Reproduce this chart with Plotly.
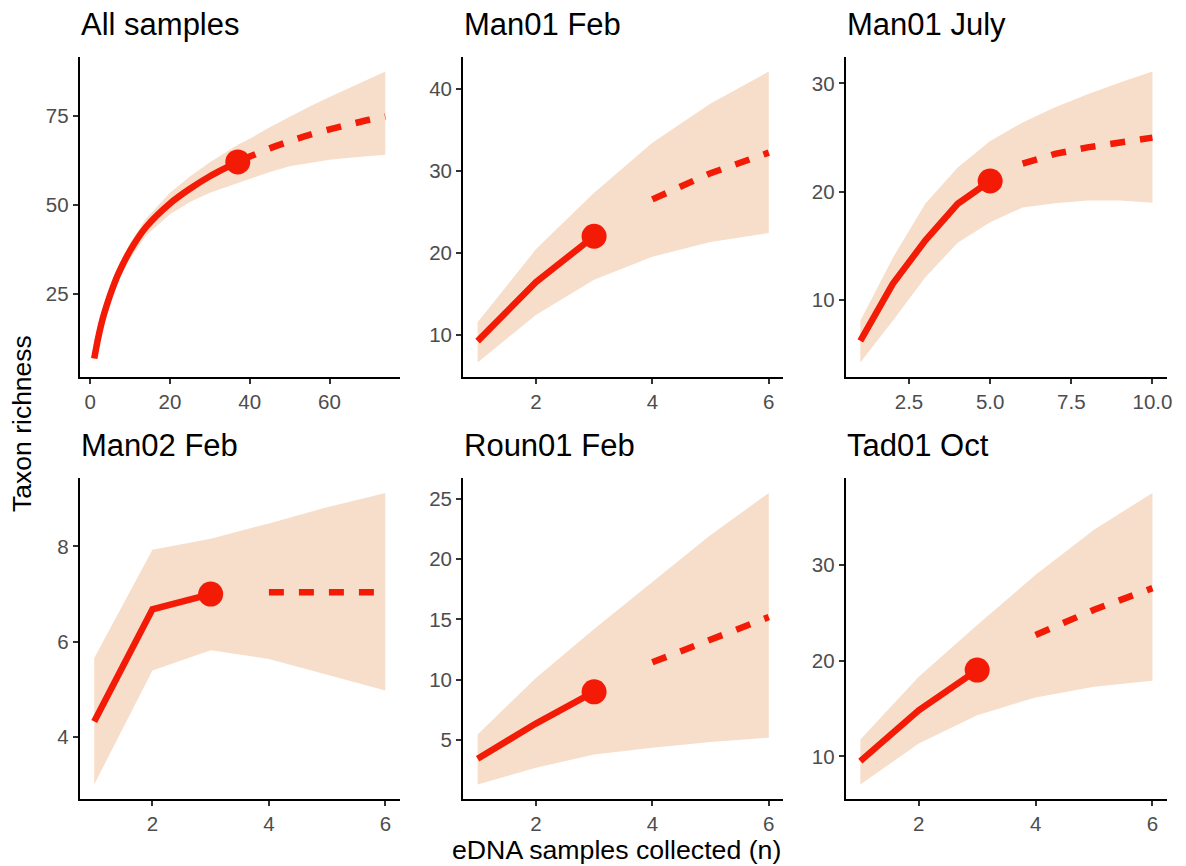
import plotly.graph_objects as go

# ---------------- data ----------------
titles = ["All samples", "Man01 Feb", "Man01 July", "Man02 Feb", "Roun01 Feb", "Tad01 Oct"]

# All samples
p1_rare_x = [1, 2, 3, 4, 5, 7, 10, 14, 20, 25, 30, 37]
p1_rare_est = [7, 12.8, 17.6, 21.4, 24.8, 30.6, 37.2, 43.8, 50.4, 54.5, 58, 62]
p1_rare_lo = [5.9, 11.8, 16.4, 20.0, 23.2, 28.7, 35.0, 41.4, 47.4, 50.8, 53.4, 56.2]
p1_rare_hi = [7.9, 13.8, 18.8, 22.8, 26.4, 32.5, 39.4, 46.2, 53.4, 57.9, 61.9, 66.8]
p1_ext_x = [38, 40, 45, 50, 55, 60, 65, 70, 74]
p1_ext_est = [62.5, 63.5, 65.8, 67.8, 69.6, 71.1, 72.5, 73.8, 74.7]
p1_ext_lo = [56.6, 57.2, 59.2, 60.8, 61.8, 62.6, 63.2, 63.7, 64.0]
p1_ext_hi = [67.3, 68.5, 71.7, 74.7, 77.5, 80.2, 82.8, 85.3, 87.3]

# Man01 Feb
p2_rare_x = [1, 2, 3]
p2_rare_est = [9.2, 16.4, 22]
p2_rare_lo = [6.6, 12.4, 16.7]
p2_rare_hi = [11.5, 20.4, 27.3]
p2_ext_x = [4, 5, 6]
p2_ext_est = [26.5, 29.7, 32.2]
p2_ext_lo = [19.5, 21.3, 22.4]
p2_ext_hi = [33.4, 38.2, 42.1]

# Man01 July
p3_rare_x = [1, 2, 3, 4, 5]
p3_rare_est = [6.25, 11.5, 15.5, 18.9, 21.0]
p3_rare_lo = [4.25, 8.1, 12.1, 15.3, 17.2]
p3_rare_hi = [8.1, 13.9, 18.9, 22.25, 24.7]
p3_ext_x = [6, 7, 8, 9, 10]
p3_ext_est = [22.6, 23.5, 24.1, 24.6, 25.0]
p3_ext_lo = [18.55, 18.95, 19.2, 19.2, 19.0]
p3_ext_hi = [26.4, 27.8, 29.0, 30.1, 31.1]

# Man02 Feb
p4_rare_x = [1, 2, 3]
p4_rare_est = [4.33, 6.68, 7.0]
p4_rare_lo = [3.01, 5.4, 5.82]
p4_rare_hi = [5.66, 7.93, 8.16]
p4_ext_x = [4, 5, 6]
p4_ext_est = [7.04, 7.04, 7.04]
p4_ext_lo = [5.64, 5.31, 4.98]
p4_ext_hi = [8.48, 8.82, 9.12]

# Roun01 Feb
p5_rare_x = [1, 2, 3]
p5_rare_est = [3.45, 6.37, 9.0]
p5_rare_lo = [1.32, 2.7, 3.8]
p5_rare_hi = [5.46, 10.15, 14.2]
p5_ext_x = [4, 5, 6]
p5_ext_est = [11.45, 13.3, 15.2]
p5_ext_lo = [4.36, 4.83, 5.19]
p5_ext_hi = [18.1, 22.0, 25.5]

# Tad01 Oct
p6_rare_x = [1, 2, 3]
p6_rare_est = [9.5, 14.8, 19.0]
p6_rare_lo = [7.07, 11.33, 14.3]
p6_rare_hi = [11.75, 18.3, 23.7]
p6_ext_x = [4, 5, 6]
p6_ext_est = [22.67, 25.3, 27.56]
p6_ext_lo = [16.15, 17.26, 17.9]
p6_ext_hi = [28.95, 33.66, 37.5]

obs_n = [37, 3, 5, 3, 3, 3]
obs_s = [62, 22, 21, 7, 9, 19]

x_tickvals = [[0, 20, 40, 60], [2, 4, 6], [2.5, 5.0, 7.5, 10.0], [2, 4, 6], [2, 4, 6], [2, 4, 6]]
x_ticktext = [["0", "20", "40", "60"], ["2", "4", "6"], ["2.5", "5.0", "7.5", "10.0"],
              ["2", "4", "6"], ["2", "4", "6"], ["2", "4", "6"]]
y_tickvals = [[25, 50, 75], [10, 20, 30, 40], [10, 20, 30], [4, 6, 8], [5, 10, 15, 20, 25], [10, 20, 30]]
y_ticktext = [["25", "50", "75"], ["10", "20", "30", "40"], ["10", "20", "30"],
              ["4", "6", "8"], ["5", "10", "15", "20", "25"], ["10", "20", "30"]]

x_title = "eDNA samples collected (n)"
y_title = "Taxon richness"

panels = [
    (p1_rare_x, p1_rare_est, p1_rare_lo, p1_rare_hi, p1_ext_x, p1_ext_est, p1_ext_lo, p1_ext_hi),
    (p2_rare_x, p2_rare_est, p2_rare_lo, p2_rare_hi, p2_ext_x, p2_ext_est, p2_ext_lo, p2_ext_hi),
    (p3_rare_x, p3_rare_est, p3_rare_lo, p3_rare_hi, p3_ext_x, p3_ext_est, p3_ext_lo, p3_ext_hi),
    (p4_rare_x, p4_rare_est, p4_rare_lo, p4_rare_hi, p4_ext_x, p4_ext_est, p4_ext_lo, p4_ext_hi),
    (p5_rare_x, p5_rare_est, p5_rare_lo, p5_rare_hi, p5_ext_x, p5_ext_est, p5_ext_lo, p5_ext_hi),
    (p6_rare_x, p6_rare_est, p6_rare_lo, p6_rare_hi, p6_ext_x, p6_ext_est, p6_ext_lo, p6_ext_hi),
]
smooth = [True, False, False, False, False, False]

# ---------------- style ----------------
W, H = 1186, 866
RED = "#F31B05"
FILL = "#F7DECB"
FONT = "Liberation Sans, Arial, sans-serif"

col_px = [(80, 401.6), (465, 786.7), (849.3, 1172)]
row_px = [(57, 377), (478.3, 799)]

fig = go.Figure()
annotations = []
layout_axes = {}

for i, (rx, re, rl, rh, ex, ee, el, eh) in enumerate(panels):
    r, c = divmod(i, 3)
    n = i + 1
    xa = "x" if n == 1 else f"x{n}"
    ya = "y" if n == 1 else f"y{n}"
    shape = "spline" if smooth[i] else "linear"
    all_x = list(rx) + list(ex)
    all_lo = list(rl) + list(el)
    all_hi = list(rh) + list(eh)
    # confidence band
    fig.add_trace(go.Scatter(
        x=all_x + all_x[::-1], y=all_hi + all_lo[::-1],
        fill="toself", fillcolor=FILL, line=dict(width=0), mode="lines",
        hoverinfo="skip", xaxis=xa, yaxis=ya, showlegend=False))
    # rarefaction (solid)
    fig.add_trace(go.Scatter(
        x=rx, y=re, mode="lines", line=dict(color=RED, width=6.5, shape=shape, smoothing=0.8),
        xaxis=xa, yaxis=ya, showlegend=False))
    # extrapolation (dashed)
    fig.add_trace(go.Scatter(
        x=ex, y=ee, mode="lines",
        line=dict(color=RED, width=6.5, dash="15px,15px", shape=shape, smoothing=0.8),
        xaxis=xa, yaxis=ya, showlegend=False))
    # observed point
    fig.add_trace(go.Scatter(
        x=[obs_n[i]], y=[obs_s[i]], mode="markers",
        marker=dict(color=RED, size=25, line=dict(width=0)),
        xaxis=xa, yaxis=ya, showlegend=False))

    xmin, xmax = min(all_x), max(all_x)
    ymin, ymax = min(all_lo), max(all_hi)
    xs, ys = xmax - xmin, ymax - ymin
    x0, x1 = col_px[c]
    y0, y1 = row_px[r]
    common = dict(showline=True, linecolor="black", linewidth=2,
                  ticks="outside", ticklen=5, tickwidth=2, tickcolor="#333333",
                  showgrid=False, zeroline=False,
                  tickfont=dict(family=FONT, size=20.5, color="#4D4D4D"))
    layout_axes["xaxis" if n == 1 else f"xaxis{n}"] = dict(
        domain=[x0 / W, x1 / W], anchor=ya,
        range=[xmin - 0.05 * xs, xmax + 0.05 * xs],
        tickmode="array", tickvals=x_tickvals[i], ticktext=x_ticktext[i], **common)
    layout_axes["yaxis" if n == 1 else f"yaxis{n}"] = dict(
        domain=[1 - y1 / H, 1 - y0 / H], anchor=xa,
        range=[ymin - 0.05 * ys, ymax + 0.05 * ys],
        tickmode="array", tickvals=y_tickvals[i], ticktext=y_ticktext[i], **common)
    # panel title
    annotations.append(dict(
        text=titles[i], xref="paper", yref="paper",
        x=(x0 - 1) / W, y=1 - (y0 - 13) / H, xanchor="left", yanchor="bottom",
        showarrow=False, font=dict(family=FONT, size=31, color="black")))

annotations.append(dict(text=x_title, xref="paper", yref="paper",
                        x=619 / W, y=1 - 850 / H, xanchor="center", yanchor="middle",
                        showarrow=False, font=dict(family=FONT, size=26.7, color="black")))
annotations.append(dict(text=y_title, xref="paper", yref="paper",
                        x=22 / W, y=1 - 423 / H, xanchor="center", yanchor="middle",
                        textangle=-90, showarrow=False,
                        font=dict(family=FONT, size=26.5, color="black")))

fig.update_layout(width=W, height=H, margin=dict(l=0, r=0, t=0, b=0),
                  paper_bgcolor="white", plot_bgcolor="white",
                  showlegend=False, annotations=annotations, **layout_axes)

fig.write_html("out.html")
